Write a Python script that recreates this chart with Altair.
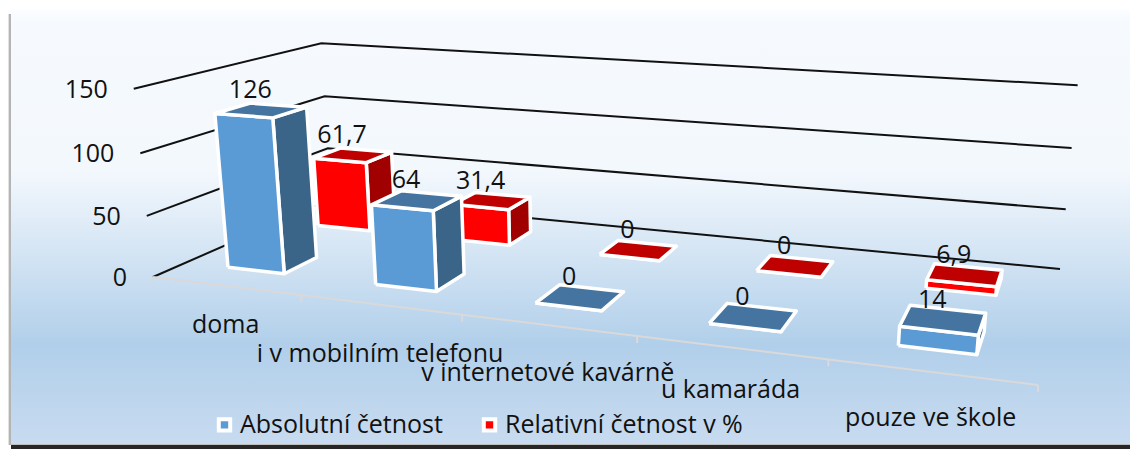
import numpy as np
import pandas as pd
import altair as alt

categories = ["doma", "i v mobilním telefonu", "v internetové kavárně", "u kamaráda", "pouze ve škole"]
absolutni = [126, 64, 0, 0, 14]
relativni = [61.7, 31.4, 0, 0, 6.9]
value_text_abs = ["126", "64", "0", "0", "14"]
value_text_rel = ["61,7", "31,4", "0", "0", "6,9"]
y_ticks = [0, 50, 100, 150]
series_names = ["Absolutní četnost", "Relativní četnost v %"]
series_front = ["#5b9bd5", "#ff0000"]
series_top = ["#44749f", "#bf0000"]
series_side = ["#3a6488", "#a00000"]
label_drop = [39, 49, 48, 43, 46]

W, H = 1122, 441
FONT = "Open Sans"

# --- camera: floor corners and wall corners at the axis maximum ---
ZMAX = 150.0
P00, P10, P11, P01 = (153, 277), (1038, 385), (1060, 269), (331, 199)
dx1, dx2, sx = P10[0]-P11[0], P01[0]-P11[0], P00[0]-P10[0]+P11[0]-P01[0]
dy1, dy2, sy = P10[1]-P11[1], P01[1]-P11[1], P00[1]-P10[1]+P11[1]-P01[1]
den = dx1*dy2 - dx2*dy1
g = (sx*dy2 - dx2*sy)/den
h = (dx1*sy - sx*dy1)/den
a, b, c = P10[0]-P00[0]+g*P10[0], P01[0]-P00[0]+h*P01[0], P00[0]
d, e, f = P10[1]-P00[1]+g*P10[1], P01[1]-P00[1]+h*P01[1], P00[1]
tops = [(0, 0, 135, 89), (0, 1, 320, 44), (1, 1, 1078, 84)]
A, B = [], []
for s_, w_, X, Y in tops:
    D0 = g*s_+h*w_+1
    A.append([-X, 1, 0]); B.append(X*D0-(a*s_+b*w_+c))
    A.append([-Y, 0, 1]); B.append(Y*D0-(d*s_+e*w_+f))
m, p, q = np.linalg.lstsq(np.array(A, float), np.array(B, float), rcond=None)[0]


def proj(u, w, v):
    s_, z = u/5.0, v/ZMAX
    D = g*s_+h*w+1+m*z
    return (a*s_+b*w+c+p*z)/D, (d*s_+e*w+f+q*z)/D


# --- polygons ---
U0, U1 = 0.295, 0.685
DEPTH = [(0.16, 0.34), (0.67, 0.84)]
polys = []
labels = []
pid = 0


def add_poly(pts, fill):
    global pid
    pts = pts+[pts[0]]
    for k, (x_, y_) in enumerate(pts):
        polys.append(dict(px=x_, py=y_, poly=f"p{pid:03d}", pt=k, fill=fill))
    pid += 1


for sidx in [1, 0]:
    vals = relativni if sidx == 1 else absolutni
    txts = value_text_rel if sidx == 1 else value_text_abs
    w0, w1 = DEPTH[sidx]
    for i, v in enumerate(vals):
        u0, u1 = i+U0, i+U1
        add_poly([proj(u1, w0, 0), proj(u1, w1, 0), proj(u1, w1, v), proj(u1, w0, v)], series_side[sidx])
        add_poly([proj(u0, w0, 0), proj(u1, w0, 0), proj(u1, w0, v), proj(u0, w0, v)], series_front[sidx])
        add_poly([proj(u0, w0, v), proj(u1, w0, v), proj(u1, w1, v), proj(u0, w1, v)], series_top[sidx])
        cx, cy = proj((u0+u1)/2, (w0+w1)/2, v)
        labels.append(dict(px=cx, py=cy, t=txts[i]))
poly_df = pd.DataFrame(polys)
label_df = pd.DataFrame(labels)

grid = []
for v in y_ticks:
    for k, (s_u, s_w) in enumerate([(0, 0), (0, 1), (5, 1)]):
        x_, y_ = proj(s_u, s_w, v)
        grid.append(dict(px=x_, py=y_, v=v, pt=k))
grid_df = pd.DataFrame(grid)

ytick_df = pd.DataFrame([dict(px=proj(0, 0, v)[0], py=proj(0, 0, v)[1]+1, t=str(v)) for v in y_ticks])
axis_df = pd.DataFrame([dict(px=proj(i, 0, 0)[0], py=proj(i, 0, 0)[1], py2=proj(i, 0, 0)[1]+7, pt=i) for i in range(6)])
cat_df = pd.DataFrame([dict(px=proj(i+.5, 0, 0)[0], py=proj(i+.5, 0, 0)[1]+label_drop[i], t=categories[i]) for i in range(5)])

X = alt.X("px:Q", scale=alt.Scale(domain=[8, 8+W], nice=False, zero=False), axis=None)
Y = alt.Y("py:Q", scale=alt.Scale(domain=[8+H, 8], nice=False, zero=False), axis=None)


def band(px, px2, py, py2, color):
    return alt.Chart(pd.DataFrame([dict(px=px, px2=px2, py=py, py2=py2)])).mark_rect(color=color).encode(
        x=X, x2="px2:Q", y=Y, y2="py2:Q")


panel = band(10, 8+W, 10, 445, alt.Gradient(
    gradient="linear", x1=0, y1=0, x2=0, y2=1,
    stops=[alt.GradientStop(offset=0, color="#fbfdff"), alt.GradientStop(offset=.03, color="#f6fafe"),
           alt.GradientStop(offset=.37, color="#f3f8fd"),
           alt.GradientStop(offset=.77, color="#b1cfea"), alt.GradientStop(offset=1, color="#c8dbf0")]))
soft = band(8, 9, 14, 445, "#e2e2e2")
shadow = band(9, 11, 14, 445, "#b4b4b4")
edge = band(11, 8+W, 444, 445, "#bdbdbd")
strip = band(11, 8+W, 445, 449, "#262626")

grid_layer = alt.Chart(grid_df).mark_line(color="#111111", strokeWidth=2).encode(x=X, y=Y, detail="v:N", order="pt:Q")
axis_line = alt.Chart(axis_df).mark_line(color="#d9d9d9", strokeWidth=2).encode(x=X, y=Y, order="pt:Q")
axis_ticks = alt.Chart(axis_df).mark_rule(color="#d9d9d9", strokeWidth=2).encode(x=X, y=Y, y2="py2:Q")
poly_layer = alt.Chart(poly_df).mark_line(stroke="white", strokeWidth=3.5, strokeJoin="round").encode(
    x=X, y=Y, detail="poly:N", order="pt:Q", fill=alt.Fill("fill:N", scale=None))
txt = dict(font=FONT, fontSize=25, color="#111111", baseline="middle")
val_layer = alt.Chart(label_df).mark_text(align="center", dx=-11, dy=-20, **txt).encode(x=X, y=Y, text="t:N")
ytick_layer = alt.Chart(ytick_df).mark_text(align="right", dx=-26, **txt).encode(x=X, y=Y, text="t:N")
cat_layer = alt.Chart(cat_df).mark_text(align="center", **txt).encode(x=X, y=Y, text="t:N")

legend_df = pd.DataFrame(dict(px=[600, 600], py=[300, 300], name=series_names))
legend_layer = alt.Chart(legend_df).mark_square(size=0).encode(
    x=X, y=Y,
    color=alt.Color("name:N", scale=alt.Scale(domain=series_names, range=series_front),
                    legend=alt.Legend(title=None, orient="none", legendX=204, legendY=404, direction="horizontal",
                                      symbolType="square", symbolSize=130, symbolStrokeColor="white",
                                      symbolStrokeWidth=4, symbolOpacity=1, labelFont=FONT, labelFontSize=25,
                                      labelColor="#111111", columnPadding=32, labelOffset=3, labelLimit=400)))

chart = alt.layer(panel, soft, shadow, edge, strip, grid_layer, axis_line, axis_ticks, poly_layer,
                  val_layer, ytick_layer, cat_layer, legend_layer).properties(
    width=W, height=H, padding=0, autosize=alt.AutoSizeParams(type="none")
).configure_view(stroke=None)

chart.save("out.html", embed_options={"renderer": "svg", "actions": False})
